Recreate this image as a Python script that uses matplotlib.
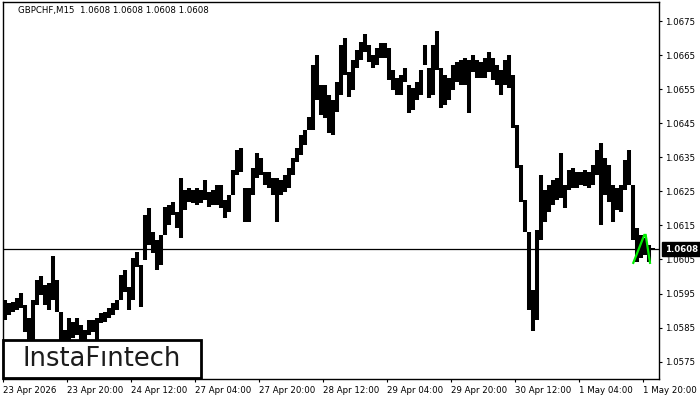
import matplotlib
matplotlib.use("Agg")
import matplotlib.pyplot as plt
import matplotlib.transforms as mtransforms
from matplotlib.patches import Rectangle

# ---- data (hourly high/low of GBPCHF) ----
highs = [1.05931, 1.05922, 1.05925, 1.05937, 1.05952, 1.05916, 1.05878, 1.05931, 1.05990, 1.06002,
         1.05975, 1.05981, 1.06060, 1.05990, 1.05896, 1.05843, 1.05878, 1.05867, 1.05878, 1.05858,
         1.05843, 1.05872, 1.05872, 1.05878, 1.05893, 1.05896, 1.05908, 1.05922, 1.05931, 1.06004,
         1.06019, 1.05969, 1.06054, 1.06072, 1.06034, 1.06181, 1.06201, 1.06131, 1.06107, 1.06122,
         1.06204, 1.06210, 1.06219, 1.06189, 1.06289, 1.06254, 1.06260, 1.06254, 1.06260, 1.06254,
         1.06283, 1.06248, 1.06254, 1.06269, 1.06269, 1.06225, 1.06239, 1.06313, 1.06371, 1.06377,
         1.06260, 1.06260, 1.06319, 1.06363, 1.06348, 1.06307, 1.06307, 1.06289, 1.06289, 1.06283,
         1.06298, 1.06319, 1.06348, 1.06377, 1.06415, 1.06430, 1.06468, 1.06621, 1.06650, 1.06562,
         1.06562, 1.06533, 1.06518, 1.06571, 1.06680, 1.06700, 1.06600, 1.06636, 1.06665, 1.06688,
         1.06712, 1.06680, 1.06650, 1.06671, 1.06685, 1.06685, 1.06671, 1.06606, 1.06583, 1.06592,
         1.06612, 1.06562, 1.06553, 1.06571, 1.06606, 1.06680, 1.06612, 1.06680, 1.06721, 1.06612,
         1.06592, 1.06583, 1.06621, 1.06630, 1.06636, 1.06641, 1.06636, 1.06650, 1.06636, 1.06630,
         1.06641, 1.06659, 1.06641, 1.06621, 1.06606, 1.06636, 1.06650, 1.06592, 1.06445, 1.06327,
         1.06225, 1.06131, 1.05960, 1.06137, 1.06298, 1.06254, 1.06269, 1.06283, 1.06289, 1.06363,
         1.06269, 1.06313, 1.06319, 1.06307, 1.06307, 1.06313, 1.06307, 1.06327, 1.06371, 1.06392,
         1.06348, 1.06327, 1.06269, 1.06260, 1.06269, 1.06342, 1.06371, 1.06269, 1.06142, 1.06122,
         1.06113, 1.06093, 1.06084]
lows = [1.05872, 1.05887, 1.05896, 1.05902, 1.05908, 1.05837, 1.05799, 1.05799, 1.05916, 1.05946,
        1.05916, 1.05902, 1.05931, 1.05896, 1.05799, 1.05799, 1.05814, 1.05820, 1.05828, 1.05799,
        1.05799, 1.05828, 1.05837, 1.05814, 1.05864, 1.05867, 1.05878, 1.05887, 1.05902, 1.05931,
        1.05955, 1.05902, 1.05931, 1.06028, 1.05911, 1.06049, 1.06093, 1.06069, 1.06019, 1.06034,
        1.06122, 1.06151, 1.06181, 1.06142, 1.06113, 1.06195, 1.06219, 1.06216, 1.06210, 1.06216,
        1.06225, 1.06204, 1.06210, 1.06210, 1.06201, 1.06172, 1.06189, 1.06239, 1.06298, 1.06307,
        1.06160, 1.06160, 1.06239, 1.06289, 1.06298, 1.06269, 1.06260, 1.06239, 1.06160, 1.06239,
        1.06248, 1.06260, 1.06298, 1.06336, 1.06357, 1.06386, 1.06430, 1.06430, 1.06518, 1.06474,
        1.06465, 1.06421, 1.06415, 1.06483, 1.06533, 1.06592, 1.06527, 1.06547, 1.06612, 1.06636,
        1.06659, 1.06630, 1.06612, 1.06621, 1.06641, 1.06641, 1.06577, 1.06547, 1.06533, 1.06533,
        1.06571, 1.06480, 1.06489, 1.06518, 1.06533, 1.06621, 1.06524, 1.06533, 1.06606, 1.06495,
        1.06503, 1.06518, 1.06547, 1.06571, 1.06562, 1.06562, 1.06480, 1.06600, 1.06583, 1.06583,
        1.06583, 1.06600, 1.06577, 1.06562, 1.06533, 1.06562, 1.06553, 1.06436, 1.06319, 1.06219,
        1.06131, 1.05902, 1.05840, 1.05872, 1.06107, 1.06160, 1.06189, 1.06210, 1.06225, 1.06230,
        1.06201, 1.06254, 1.06260, 1.06260, 1.06269, 1.06266, 1.06260, 1.06269, 1.06298, 1.06151,
        1.06239, 1.06219, 1.06160, 1.06195, 1.06189, 1.06254, 1.06269, 1.06107, 1.06043, 1.06054,
        1.06063, 1.06043, 1.06078]

last_price = 1.0608
title_text = "GBPCHF,M15  1.0608 1.0608 1.0608 1.0608"
x_labels = ["23 Apr 2026", "23 Apr 20:00", "24 Apr 12:00", "27 Apr 04:00", "27 Apr 20:00",
            "28 Apr 12:00", "29 Apr 04:00", "29 Apr 20:00", "30 Apr 12:00", "1 May 04:00",
            "1 May 20:00"]
y_ticks = [1.0575, 1.0585, 1.0595, 1.0605, 1.0615, 1.0625, 1.0635, 1.0645, 1.0655, 1.0665, 1.0675]

# pattern (green) in M15 bar index / price
pattern_idx = [630.3, 641.3, 642.7, 647.0]
pattern_price = [1.06040, 1.06122, 1.06122, 1.06040]

BARS_PER_HOUR = 4
BARS_PER_LABEL = 64

plt.rcParams['font.family'] = ['DejaVu Sans']

fig = plt.figure(figsize=(7, 4), dpi=100)
fig.patch.set_facecolor('white')
ax = fig.add_axes([3 / 700, 21 / 400, 656 / 700, 377 / 400])
ax.set_facecolor('white')

x_centers = [BARS_PER_HOUR * i + BARS_PER_HOUR / 2 for i in range(len(highs))]
ax.vlines(x_centers, lows, highs, colors='black', linewidth=2.9, capstyle='butt', zorder=3)

ax.axhline(last_price, color='black', linewidth=0.9, zorder=2)

ax.plot(pattern_idx, pattern_price, color='#00ee00', linewidth=1.6, zorder=4,
        solid_joinstyle='miter')

ax.set_xlim(0, 656)
ax.set_ylim(1.05699, 1.06806)

# axes / ticks
ax.yaxis.tick_right()
ax.set_yticks(y_ticks)
ax.set_yticklabels([f"{v:.4f}" for v in y_ticks])
ax.set_xticks([BARS_PER_LABEL * k for k in range(len(x_labels))])
ax.set_xticklabels(x_labels, ha='left')
ax.tick_params(axis='both', labelsize=6.2, length=2.5, width=0.8, colors='black', pad=1.5)
ax.tick_params(axis='x', pad=2.5)
for s in ax.spines.values():
    s.set_linewidth(1.0)
    s.set_color('black')

# title inside
ax.text(0.023, 0.989, title_text, transform=ax.transAxes, ha='left', va='top',
        fontsize=6.2, color='black')

# current price box
trans = mtransforms.blended_transform_factory(ax.transAxes, ax.transData)
ax.text(1.009, last_price, f"{last_price:.4f}", transform=trans, ha='left', va='center',
        fontsize=6.2, color='white', fontweight='bold', clip_on=False, zorder=6,
        bbox=dict(boxstyle='square,pad=0.3', fc='black', ec='black'))

# logo
ax.add_patch(Rectangle((0.0, 0.003), 0.302, 0.1005, transform=ax.transAxes,
                       facecolor='white', edgecolor='black', linewidth=2.0, zorder=7,
                       clip_on=False))
ax.text(0.151, 0.053, "InstaFıntech", transform=ax.transAxes, ha='center', va='center',
        fontsize=18.5, color='#1c1c1c', zorder=8)

fig.savefig("out.png", dpi=100, facecolor='white')
